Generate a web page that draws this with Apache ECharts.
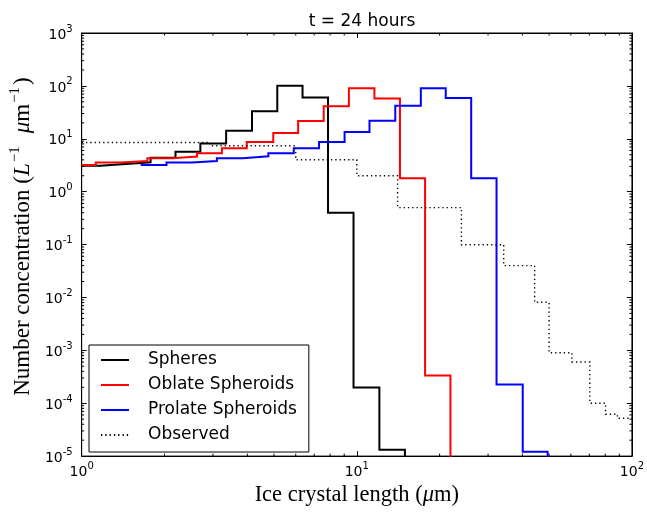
<!DOCTYPE html>
<html>
<head>
<meta charset="utf-8">
<script src="https://cdn.jsdelivr.net/npm/echarts@6/dist/echarts.min.js"></script>
<style>
  html, body { margin: 0; padding: 0; background: #fff; }
  #chart { width: 647px; height: 512px; }
</style>
</head>
<body>
<div id="chart"></div>
<script>
// Size distributions after 24 hours: bin edges (µm) and number concentrations (L^-1 µm^-1)
const sphereEdges  = [1.0, 1.167, 1.445, 1.78, 2.193, 2.70, 3.35, 4.16, 5.14, 6.35, 7.86, 9.73, 12.08, 14.96];
const sphereValues = [3.1, 3.35, 3.6, 4.4, 5.7, 8.1, 14.2, 33, 101, 60.5, 0.40, 1.98e-4, 1.32e-5];

const oblateEdges  = [1.0, 1.126, 1.387, 1.733, 2.133, 2.627, 3.234, 3.98, 4.97, 6.12, 7.58, 9.36, 11.59, 14.35, 17.71, 21.9];
const oblateValues = [3.2, 3.55, 3.8, 4.3, 4.6, 5.3, 6.6, 8.7, 12.9, 21.6, 41, 90, 58, 1.8, 3.36e-4];

const prolateEdges  = [1.638, 2.034, 2.52, 3.10, 3.85, 4.77, 5.90, 7.29, 9.03, 11.12, 13.80, 17.09, 21.05, 26.05, 32.2, 40.1, 49.4];
const prolateValues = [3.2, 3.55, 3.8, 4.3, 4.65, 5.3, 6.6, 8.7, 13.4, 22, 42, 90, 58.7, 1.8, 2.25e-4, 1.21e-5];

const observedEdges  = [1.0, 2.93, 6.0, 10.0, 14.07, 24.0, 34.2, 44.3, 50.0, 60.5, 70.3, 80.2, 88.5, 100];
const observedValues = [8.5, 7.4, 4.0, 2.0, 0.5, 0.099, 0.04, 0.0081, 9.0e-4, 6.0e-4, 1.0e-4, 6.2e-5, 5.2e-5];

const seriesNames = ['Spheres', 'Oblate Spheroids', 'Prolate Spheroids', 'Observed'];

// Axis ranges (log10 scales)
const X_MIN = 1, X_MAX = 100;
const Y_MIN = 1e-5, Y_MAX = 1e3;
const ZERO_LEVEL = 1e-9; // empty bins sit below the axis floor and get clipped

// Histogram outline: one point per bin start, closing point at the last edge,
// optionally dropping to an empty bin afterwards.
function stepData(edges, values, dropAtEnd) {
  const pts = values.map((v, i) => [edges[i], v]);
  const last = edges[edges.length - 1];
  pts.push([last, values[values.length - 1]]);
  if (dropAtEnd) pts.push([last, ZERO_LEVEL]);
  return pts;
}

// Minor tick positions 2..9 × 10^n inside each decade
function minorTicks(lo, hi) {
  const out = [];
  for (let d = Math.round(Math.log10(lo)); d < Math.round(Math.log10(hi)); d++) {
    for (let k = 2; k <= 9; k++) out.push(k * Math.pow(10, d));
  }
  return out;
}
const xMinor = minorTicks(X_MIN, X_MAX);
const yMinor = minorTicks(Y_MIN, Y_MAX);

const SANS = 'DejaVu Sans';
const SERIF = 'Liberation Serif';

const powLabel = {
  formatter: v => '{b|10}{e|' + Math.round(Math.log10(v)) + '}',
  rich: {
    b: { fontSize: 14, fontFamily: SANS, color: '#000', lineHeight: 18, verticalAlign: 'bottom' },
    e: { fontSize: 10, fontFamily: SANS, color: '#000', lineHeight: 7, verticalAlign: 'top' }
  }
};

const frameLine = { show: true, onZero: false, lineStyle: { color: '#000', width: 1 } };
const majorTick = { show: true, inside: true, length: 5, lineStyle: { color: '#000', width: 1 } };

function lineSeries(name, data, color, extra) {
  return Object.assign({
    name: name,
    type: 'line',
    step: 'end',
    data: data,
    symbol: 'none',
    clip: true,
    animation: false,
    lineStyle: { color: color, width: 2, join: 'miter', cap: 'butt' },
    itemStyle: { color: color }
  }, extra || {});
}

const chart = echarts.init(document.getElementById('chart'), null, { renderer: 'canvas' });

chart.setOption({
  backgroundColor: '#fff',
  animation: false,
  title: {
    text: 't = 24 hours',
    left: 357,
    top: 8,
    textAlign: 'center',
    textStyle: { fontFamily: SANS, fontSize: 17, fontWeight: 'normal', color: '#000' }
  },
  grid: { left: 80, right: 13, top: 33, bottom: 50, show: true, borderColor: '#000', borderWidth: 1, backgroundColor: 'transparent' },
  legend: {
    data: seriesNames,
    orient: 'vertical',
    left: 89,
    top: 345,
    padding: [5, 12, 7, 11],
    itemWidth: 28,
    itemHeight: 14,
    itemGap: 5,
    borderColor: '#000',
    borderWidth: 1,
    backgroundColor: '#fff',
    selectedMode: false,
    itemStyle: { opacity: 0 },
    textStyle: { fontFamily: SANS, fontSize: 17, color: '#000', lineHeight: 20, padding: [0, 0, 0, 14] }
  },
  xAxis: [
    {
      type: 'log', logBase: 10, min: X_MIN, max: X_MAX, interval: 1, position: 'bottom',
      axisLine: frameLine, axisTick: majorTick, splitLine: { show: false },
      axisLabel: Object.assign({ margin: 5 }, powLabel),
      name: '{n|Ice crystal length (}{i|μ}{n|m)}',
      nameLocation: 'middle',
      nameGap: 21,
      nameTextStyle: {
        rich: {
          n: { fontFamily: SERIF, fontSize: 22.5, color: '#000' },
          i: { fontFamily: SERIF, fontSize: 22.5, fontStyle: 'italic', color: '#000' }
        }
      }
    },
    {
      type: 'log', logBase: 10, min: X_MIN, max: X_MAX, interval: 1, position: 'top',
      axisLine: frameLine, axisTick: majorTick, splitLine: { show: false },
      axisLabel: { show: false }
    }
  ],
  yAxis: [
    {
      type: 'log', logBase: 10, min: Y_MIN, max: Y_MAX, interval: 1, position: 'left',
      axisLine: frameLine, axisTick: majorTick, splitLine: { show: false },
      axisLabel: Object.assign({ margin: 9 }, powLabel),
      name: '{a|Number concentration (}{i|L}{s|−1}{g| }{i|μ}{n|m}{s|−1}{n|)}',
      nameLocation: 'middle',
      nameRotate: 90,
      nameGap: 43,
      nameTextStyle: {
        rich: {
          a: { fontFamily: SERIF, fontSize: 23, color: '#000', lineHeight: 26, verticalAlign: 'bottom', padding: [0, 0, 0, 16] },
          n: { fontFamily: SERIF, fontSize: 23, color: '#000', lineHeight: 26, verticalAlign: 'bottom' },
          i: { fontFamily: SERIF, fontSize: 23, fontStyle: 'italic', color: '#000', lineHeight: 26, verticalAlign: 'bottom' },
          g: { fontFamily: SERIF, fontSize: 23, width: 11, lineHeight: 26, verticalAlign: 'bottom' },
          s: { fontFamily: SERIF, fontSize: 15, color: '#000', lineHeight: 12, verticalAlign: 'top', padding: [0, 2, 0, 1] }
        }
      }
    },
    {
      type: 'log', logBase: 10, min: Y_MIN, max: Y_MAX, interval: 1, position: 'right',
      axisLine: frameLine, axisTick: majorTick, splitLine: { show: false },
      axisLabel: { show: false }
    }
  ],
  series: [
    lineSeries(seriesNames[0], stepData(sphereEdges, sphereValues, true), '#000000'),
    lineSeries(seriesNames[1], stepData(oblateEdges, oblateValues, true), '#ff0000'),
    lineSeries(seriesNames[2], stepData(prolateEdges, prolateValues, true), '#0000ff'),
    lineSeries(seriesNames[3], stepData(observedEdges, observedValues, false), '#000000', {
      lineStyle: { color: '#000000', width: 1.4, type: [1.3, 3], join: 'miter', cap: 'butt' }
    }),
    // minor ticks on bottom and top edges
    {
      type: 'custom',
      silent: true,
      animation: false,
      clip: false,
      data: xMinor.map(v => [v, 1]),
      renderItem: (params, api) => {
        const v = api.value(0);
        const b = api.coord([v, Y_MIN]);
        const t = api.coord([v, Y_MAX]);
        const st = { stroke: '#000', lineWidth: 1 };
        return {
          type: 'group',
          children: [
            { type: 'line', shape: { x1: b[0], y1: b[1], x2: b[0], y2: b[1] - 2.5 }, style: st },
            { type: 'line', shape: { x1: t[0], y1: t[1], x2: t[0], y2: t[1] + 2.5 }, style: st }
          ]
        };
      }
    },
    // minor ticks on left and right edges
    {
      type: 'custom',
      silent: true,
      animation: false,
      clip: false,
      data: yMinor.map(v => [1, v]),
      renderItem: (params, api) => {
        const v = api.value(1);
        const l = api.coord([X_MIN, v]);
        const r = api.coord([X_MAX, v]);
        const st = { stroke: '#000', lineWidth: 1 };
        return {
          type: 'group',
          children: [
            { type: 'line', shape: { x1: l[0], y1: l[1], x2: l[0] + 2.5, y2: l[1] }, style: st },
            { type: 'line', shape: { x1: r[0], y1: r[1], x2: r[0] - 2.5, y2: r[1] }, style: st }
          ]
        };
      }
    }
  ]
});
</script>
</body>
</html>
